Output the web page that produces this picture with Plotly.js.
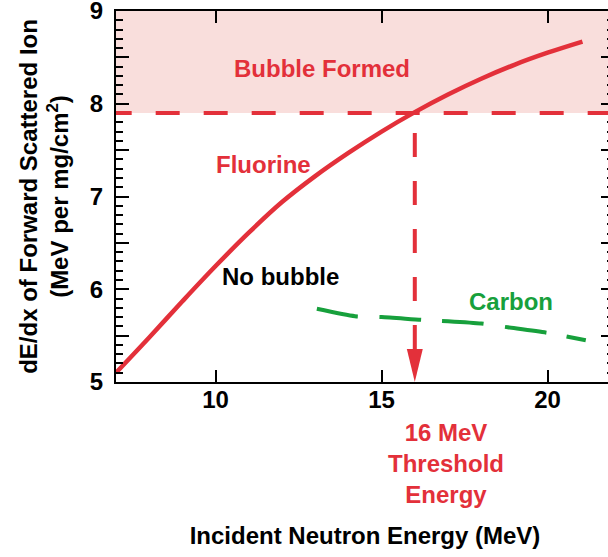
<!DOCTYPE html>
<html>
<head>
<meta charset="utf-8">
<script src="https://cdn.plot.ly/plotly-3.0.1.min.js"></script>
<style>
html, body { margin: 0; padding: 0; overflow: hidden; background: #ffffff; }
#chart { width: 620px; height: 557px; }
</style>
</head>
<body>
<div id="chart"></div>
<script>
// ---- data ----
const fluorineEnergy = [7, 8, 9, 10, 11, 12, 13, 14, 15, 16, 17, 18, 19, 20, 21.05];
const fluorineDedx   = [5.10, 5.48, 5.87, 6.25, 6.61, 6.94, 7.22, 7.47, 7.70, 7.91, 8.10, 8.27, 8.42, 8.55, 8.67];

const carbonEnergy = [13.05, 14.2, 15.0, 16.2, 17.0, 18.0, 18.8, 20.0, 21.15];
const carbonDedx   = [5.79, 5.71, 5.70, 5.67, 5.655, 5.63, 5.59, 5.53, 5.45];

const xTickVals = [10, 15, 20];
const xTickText = ['10', '15', '20'];
const yTickVals = [5, 6, 7, 8, 9];
const yTickText = ['5', '6', '7', '8', '9'];
const yHalfTickVals = [5.5, 6.5, 7.5, 8.5];

const thresholdEnergy = 16;    // MeV
const thresholdDedx = 7.9;     // MeV per mg/cm2
const xRange = [7, 22];
const yRange = [5, 9];

// ---- styling ----
const RED = '#e3303a';
const GREEN = '#17a03c';
const PINK = '#f9dedc';
const FONT = 'Liberation Sans, Arial, Helvetica, sans-serif';

const arrowHalfWidth = 0.24;   // x units
const arrowBase = 5.356;       // y units

const traces = [
  {
    x: fluorineEnergy, y: fluorineDedx, type: 'scatter', mode: 'lines',
    name: 'Fluorine',
    line: { color: RED, width: 4.5, shape: 'spline', smoothing: 1 },
    hoverinfo: 'x+y'
  },
  {
    x: carbonEnergy, y: carbonDedx, type: 'scatter', mode: 'lines',
    name: 'Carbon', yaxis: 'y2',
    line: { color: GREEN, width: 4, dash: '42px,21px', shape: 'spline', smoothing: 0.6 },
    hoverinfo: 'x+y'
  }
];

const axisFont = { family: FONT, size: 24, color: '#000', weight: 'bold' };

const layout = {
  width: 620, height: 557,
  margin: { l: 116, r: 6, t: 11, b: 175 },
  paper_bgcolor: '#ffffff', plot_bgcolor: '#ffffff',
  showlegend: false,
  font: { family: FONT, size: 24, color: '#000' },
  xaxis: {
    range: xRange, tickmode: 'array', tickvals: xTickVals, ticktext: xTickText,
    ticks: 'inside', ticklen: 12, tickwidth: 2, tickcolor: '#000',
    showline: true, linewidth: 2, linecolor: '#000', mirror: 'ticks',
    showgrid: false, zeroline: false,
    tickfont: axisFont, ticklabelstandoff: -5, ticklabeloverflow: 'allow',
    title: { text: 'Incident Neutron Energy (MeV)', font: axisFont, standoff: 115 }
  },
  yaxis: {
    range: yRange, tickmode: 'array', tickvals: yTickVals, ticktext: yTickText,
    ticks: 'inside', ticklen: 13, tickwidth: 2, tickcolor: '#000',
    minor: { tickmode: 'linear', tick0: 5, dtick: 0.1, ticks: 'inside', ticklen: 7, tickwidth: 2, tickcolor: '#000' },
    showline: true, linewidth: 2, linecolor: '#000', mirror: 'ticks',
    showgrid: false, zeroline: false,
    tickfont: axisFont, ticklabelstandoff: 6, ticklabeloverflow: 'allow',
    title: { text: 'dE/dx of Forward Scattered Ion<br>(MeV per mg/cm<sup>2</sup>)', font: axisFont, standoff: 14 }
  },
  yaxis2: {
    range: yRange, overlaying: 'y', side: 'left', anchor: 'x',
    tickmode: 'array', tickvals: yHalfTickVals, showticklabels: false,
    ticks: 'inside', ticklen: 13, tickwidth: 2, tickcolor: '#000',
    showline: false, mirror: 'ticks', showgrid: false, zeroline: false
  },
  shapes: [
    { type: 'rect', xref: 'paper', x0: 0, x1: 1, yref: 'y', y0: thresholdDedx, y1: yRange[1],
      fillcolor: PINK, line: { width: 0 }, layer: 'below' },
    { type: 'line', xref: 'x', yref: 'y', x0: 21.93, x1: xRange[0], y0: thresholdDedx, y1: thresholdDedx,
      line: { color: RED, width: 4, dash: '24px,24px' } },
    { type: 'line', xref: 'x', yref: 'y', x0: thresholdEnergy, x1: thresholdEnergy, y0: arrowBase, y1: thresholdDedx,
      line: { color: RED, width: 4, dash: '24px,24px' } },
    { type: 'path', xref: 'x', yref: 'y',
      path: 'M ' + (thresholdEnergy - arrowHalfWidth) + ',' + arrowBase +
            ' L ' + (thresholdEnergy + arrowHalfWidth) + ',' + arrowBase +
            ' L ' + thresholdEnergy + ',' + yRange[0] + ' Z',
      fillcolor: RED, line: { color: RED, width: 0 } }
  ],
  annotations: [
    { text: 'Bubble Formed', x: 13.21, y: 8.375, xref: 'x', yref: 'y', showarrow: false,
      font: { family: FONT, size: 24, color: RED, weight: 'bold' } },
    { text: 'Fluorine', x: 11.45, y: 7.35, xref: 'x', yref: 'y', showarrow: false,
      font: { family: FONT, size: 24, color: RED, weight: 'bold' } },
    { text: 'No bubble', x: 11.96, y: 6.14, xref: 'x', yref: 'y', showarrow: false,
      font: { family: FONT, size: 24, color: '#000', weight: 'bold' } },
    { text: 'Carbon', x: 18.89, y: 5.87, xref: 'x', yref: 'y', showarrow: false,
      font: { family: FONT, size: 24, color: GREEN, weight: 'bold' } },
    { text: '16 MeV<br>Threshold<br>Energy', x: 16.93, y: -0.221, xref: 'x', yref: 'paper',
      xanchor: 'center', yanchor: 'middle', showarrow: false,
      font: { family: FONT, size: 24, color: RED, weight: 'bold' } }
  ]
};

Plotly.newPlot('chart', traces, layout, { displayModeBar: false, staticPlot: true });
</script>
</body>
</html>
